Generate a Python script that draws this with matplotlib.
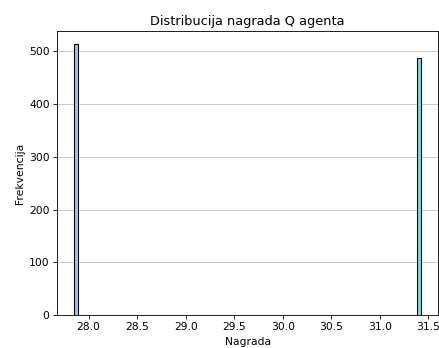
import matplotlib
matplotlib.use("Agg")
import matplotlib.pyplot as plt

# reward values observed and how often each occurred
reward_values = [27.853, 31.421]
reward_counts = [513, 487]
num_bins = 100

DPI = 77
fig, ax = plt.subplots(figsize=(439 / DPI, 348 / DPI), dpi=DPI)
fig.subplots_adjust(left=0.130, right=0.998, top=0.911, bottom=0.095)

ax.hist(reward_values, bins=num_bins, weights=reward_counts,
        color='skyblue', edgecolor='black')

ax.set_title('Distribucija nagrada Q agenta')
ax.set_xlabel('Nagrada')
ax.set_ylabel('Frekvencija')
ax.grid(axis='y', alpha=0.75)
ax.set_axisbelow(True)

fig.savefig('out.png', dpi=DPI)
